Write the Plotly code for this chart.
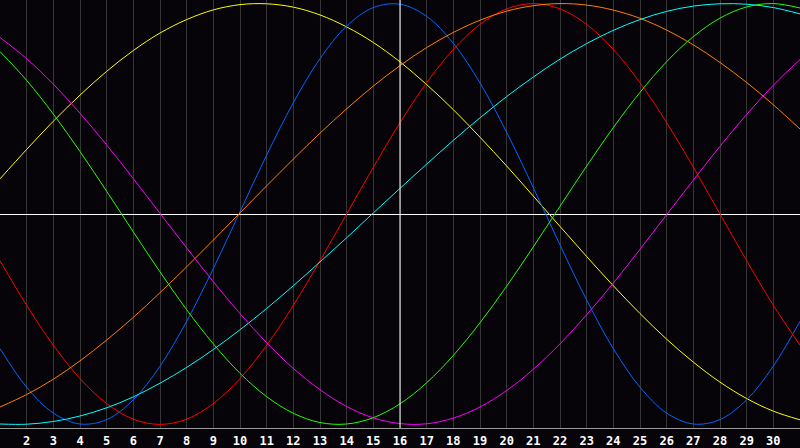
import plotly.graph_objects as go

days = list(range(1, 32))
today = 16
tick_days = list(range(2, 31))
tick_labels = [str(d) for d in tick_days]

yellow = [0.167, 0.307, 0.441, 0.565, 0.678, 0.777, 0.860, 0.924, 0.970, 0.995, 0.999,
          0.983, 0.946, 0.889, 0.815, 0.723, 0.615, 0.496, 0.365, 0.228, 0.085,
          -0.059, -0.202, -0.341, -0.473, -0.595, -0.704, -0.799, -0.877, -0.937, -0.978]
blue = [-0.640, -0.823, -0.946, -0.998, -0.977, -0.883, -0.723, -0.510, -0.259, 0.011, 0.280,
        0.529, 0.738, 0.893, 0.981, 0.997, 0.939, 0.811, 0.623, 0.388, 0.125,
        -0.147, -0.409, -0.640, -0.823, -0.946, -0.998, -0.977, -0.883, -0.723, -0.510]
red = [-0.222, -0.434, -0.624, -0.782, -0.901, -0.975, -1.000, -0.975, -0.901, -0.782, -0.624,
       -0.434, -0.222, 0.000, 0.222, 0.434, 0.624, 0.782, 0.901, 0.975, 1.000,
       0.975, 0.901, 0.782, 0.624, 0.434, 0.222, 0.000, -0.222, -0.434, -0.624]
orange = [-0.917, -0.858, -0.785, -0.698, -0.599, -0.491, -0.374, -0.251, -0.124, 0.005, 0.134,
          0.261, 0.384, 0.500, 0.608, 0.705, 0.791, 0.863, 0.921, 0.964, 0.990,
          1.000, 0.993, 0.969, 0.930, 0.874, 0.804, 0.720, 0.625, 0.519, 0.404]
cyan = [-0.998, -0.999, -0.986, -0.960, -0.921, -0.869, -0.804, -0.729, -0.644, -0.550, -0.449,
        -0.341, -0.228, -0.113, 0.005, 0.122, 0.237, 0.350, 0.457, 0.558, 0.651,
        0.736, 0.810, 0.873, 0.924, 0.963, 0.988, 0.999, 0.997, 0.981, 0.951]
green = [0.772, 0.635, 0.475, 0.297, 0.108, -0.085, -0.275, -0.455, -0.617, -0.757, -0.868,
         -0.947, -0.991, -0.998, -0.968, -0.902, -0.802, -0.672, -0.517, -0.343, -0.156,
         0.037, 0.228, 0.411, 0.578, 0.724, 0.843, 0.931, 0.984, 1.000, 0.979]
magenta = [0.839, 0.738, 0.617, 0.479, 0.328, 0.168, 0.003, -0.161, -0.322, -0.473, -0.612,
           -0.734, -0.835, -0.915, -0.969, -0.996, -0.997, -0.970, -0.917, -0.839, -0.738,
           -0.617, -0.479, -0.328, -0.168, -0.003, 0.161, 0.322, 0.473, 0.612, 0.734]

series = [
    ("yellow", yellow, "#ffff00"),
    ("blue", blue, "#0066ff"),
    ("red", red, "#ff0000"),
    ("orange", orange, "#ff8000"),
    ("cyan", cyan, "#00ffff"),
    ("green", green, "#22ff00"),
    ("magenta", magenta, "#ff00ff"),
]

fig = go.Figure()
for name, vals, color in series:
    fig.add_trace(go.Scatter(x=days, y=vals, mode="lines", name=name,
                             line=dict(color=color, width=1, shape="spline", smoothing=1.0),
                             hoverinfo="skip"))

fig.add_vline(x=today, line=dict(color="#ffffff", width=1), layer="above")

bg = "#060409"
fig.update_layout(
    width=800, height=448,
    margin=dict(l=0, r=0, t=0, b=20),
    paper_bgcolor=bg, plot_bgcolor=bg,
    showlegend=False,
    xaxis=dict(range=[1, 31], tickvals=tick_days, ticktext=tick_labels,
               showgrid=True, gridcolor="#363636", gridwidth=1,
               zeroline=False, showline=True, linecolor="#999999", linewidth=1, mirror=True,
               ticks="", ticklabelstandoff=2,
               tickfont=dict(family="DejaVu Sans Mono", size=12, color="#ffffff", weight="bold")),
    yaxis=dict(range=[-1.017, 1.017], showgrid=False, showticklabels=False, ticks="",
               zeroline=True, zerolinecolor="#ffffff", zerolinewidth=1,
               showline=True, linecolor="#999999", linewidth=1, mirror=True),
)

fig.write_html("out.html", config={"displayModeBar": False},
               post_script="document.body.style.margin='0';document.body.style.overflow='hidden';"
                           "document.body.style.background='" + bg + "';")
